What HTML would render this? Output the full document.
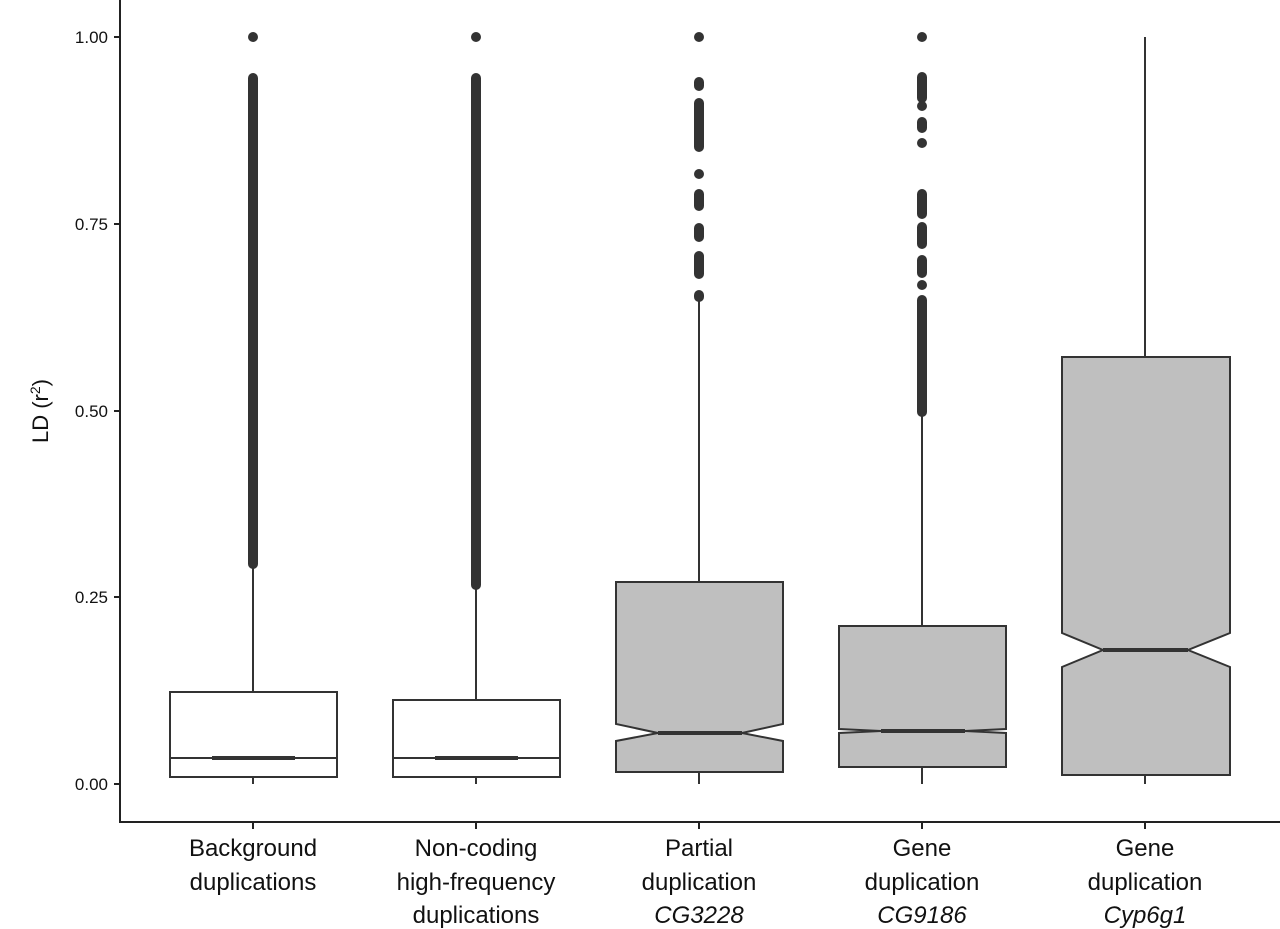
<!DOCTYPE html>
<html><head><meta charset="utf-8"><style>
html,body{margin:0;padding:0;background:#fff;}
svg{display:block;font-family:"Liberation Sans",Arial,sans-serif;}
</style></head><body>
<svg width="1280" height="929" viewBox="0 0 1280 929" xmlns="http://www.w3.org/2000/svg">
<g stroke="#222" stroke-width="2" fill="none">
<line x1="120" y1="0" x2="120" y2="823"/>
<line x1="119" y1="822" x2="1280" y2="822"/>
<line x1="114" y1="37" x2="120" y2="37"/>
<line x1="114" y1="224" x2="120" y2="224"/>
<line x1="114" y1="411" x2="120" y2="411"/>
<line x1="114" y1="597" x2="120" y2="597"/>
<line x1="114" y1="784" x2="120" y2="784"/>
<line x1="253" y1="822" x2="253" y2="829"/>
<line x1="476" y1="822" x2="476" y2="829"/>
<line x1="699" y1="822" x2="699" y2="829"/>
<line x1="922" y1="822" x2="922" y2="829"/>
<line x1="1145" y1="822" x2="1145" y2="829"/>
</g>
<g font-size="17" fill="#111" text-anchor="end">
<text x="108" y="43">1.00</text>
<text x="108" y="230">0.75</text>
<text x="108" y="417">0.50</text>
<text x="108" y="603">0.25</text>
<text x="108" y="790">0.00</text>
</g>
<text transform="translate(48,411) rotate(-90)" font-size="22" text-anchor="middle" fill="#111">LD (r<tspan font-size="14" dy="-8">2</tspan><tspan dy="8">)</tspan></text>

<g stroke="#333" stroke-width="2">
<line x1="253" y1="566" x2="253" y2="692"/><line x1="253" y1="777" x2="253" y2="784"/>
<line x1="476" y1="587" x2="476" y2="700"/><line x1="476" y1="777" x2="476" y2="784"/>
<line x1="699" y1="298" x2="699" y2="582"/><line x1="699" y1="772" x2="699" y2="784"/>
<line x1="922" y1="415" x2="922" y2="626"/><line x1="922" y1="767" x2="922" y2="784"/>
<line x1="1145" y1="37" x2="1145" y2="357"/><line x1="1145" y1="775" x2="1145" y2="784"/>
</g>
<g fill="#333">
<circle cx="253" cy="37" r="5"/><rect x="248" y="73" width="10" height="496" rx="5"/>
<circle cx="476" cy="37" r="5"/><rect x="471" y="73" width="10" height="517" rx="5"/>
<circle cx="699" cy="37" r="5"/>
<rect x="694" y="77" width="10" height="14" rx="5"/>
<rect x="694" y="98" width="10" height="54" rx="5"/>
<circle cx="699" cy="174" r="5"/>
<rect x="694" y="189" width="10" height="22" rx="5"/>
<rect x="694" y="223" width="10" height="19" rx="5"/>
<rect x="694" y="251" width="10" height="28" rx="5"/>
<rect x="694" y="290" width="10" height="12" rx="5"/>
<circle cx="922" cy="37" r="5"/>
<rect x="917" y="72" width="10" height="31" rx="5"/>
<circle cx="922" cy="106" r="5"/>
<rect x="917" y="117" width="10" height="16" rx="5"/>
<circle cx="922" cy="143" r="5"/>
<rect x="917" y="189" width="10" height="30" rx="5"/>
<rect x="917" y="222" width="10" height="27" rx="5"/>
<rect x="917" y="255" width="10" height="23" rx="5"/>
<circle cx="922" cy="285" r="5"/>
<rect x="917" y="295" width="10" height="122" rx="5"/>
</g>
<g stroke="#333" stroke-width="2">
<rect x="170" y="692" width="167" height="85" fill="#fff"/>
<line x1="170" y1="758" x2="337" y2="758"/>
<line x1="212" y1="758" x2="295" y2="758" stroke-width="4"/>
<rect x="393" y="700" width="167" height="77" fill="#fff"/>
<line x1="393" y1="758" x2="560" y2="758"/>
<line x1="435" y1="758" x2="518" y2="758" stroke-width="4"/>
<polygon fill="#bfbfbf" points="616,582 783,582 783,724 742,733 783,741 783,772 616,772 616,741 658,733 616,724"/>
<line x1="658" y1="733" x2="742" y2="733" stroke-width="4"/>
<polygon fill="#bfbfbf" points="839,626 1006,626 1006,729 965,731 1006,733 1006,767 839,767 839,733 881,731 839,729"/>
<line x1="881" y1="731" x2="965" y2="731" stroke-width="4"/>
<polygon fill="#bfbfbf" points="1062,357 1230,357 1230,633 1188,650 1230,667 1230,775 1062,775 1062,667 1103,650 1062,633"/>
<line x1="1103" y1="650" x2="1188" y2="650" stroke-width="4"/>
</g>
<g font-size="24" fill="#111" text-anchor="middle">
<text x="253" y="856">Background</text><text x="253" y="890">duplications</text>
<text x="476" y="856">Non-coding</text><text x="476" y="890">high-frequency</text><text x="476" y="923">duplications</text>
<text x="699" y="856">Partial</text><text x="699" y="890">duplication</text><text x="699" y="923" font-style="italic">CG3228</text>
<text x="922" y="856">Gene</text><text x="922" y="890">duplication</text><text x="922" y="923" font-style="italic">CG9186</text>
<text x="1145" y="856">Gene</text><text x="1145" y="890">duplication</text><text x="1145" y="923" font-style="italic">Cyp6g1</text>
</g>
</svg>
</body></html>
